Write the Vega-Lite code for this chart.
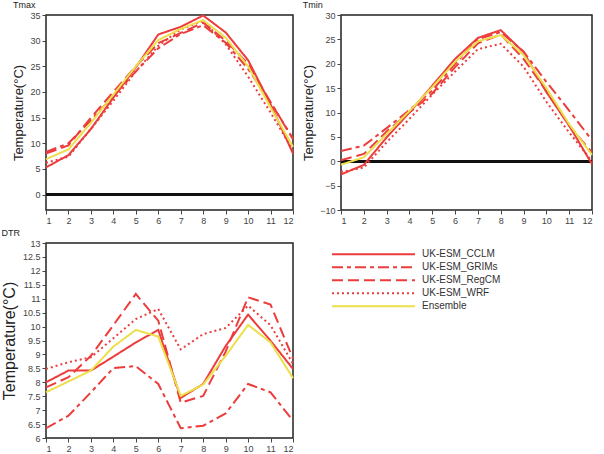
{
  "$schema": "https://vega.github.io/schema/vega-lite/v6.json",
  "padding": {"left": 0, "top": 0, "right": 5, "bottom": 3},
  "background": "white",
  "config": {
    "font": "Liberation Sans",
    "view": {"stroke": "#222", "strokeWidth": 1.5},
    "axis": {"grid": false, "domain": false, "labelFontSize": 9, "labelColor": "#444", "tickColor": "#444", "tickSize": 4, "labelPadding": 2, "labelOverlap": false, "titleFontWeight": "normal", "titleColor": "#222"},
    "title": {"fontSize": 9, "fontWeight": "normal", "anchor": "start", "offset": 1, "color": "#222"}
  },
  "datasets": {
    "temps": [
      {"v":"Tmax","model":"UK-ESM_CCLM","m":1,"t":5.3},{"v":"Tmax","model":"UK-ESM_CCLM","m":2,"t":7.7},{"v":"Tmax","model":"UK-ESM_CCLM","m":3,"t":12.8},{"v":"Tmax","model":"UK-ESM_CCLM","m":4,"t":18.9},{"v":"Tmax","model":"UK-ESM_CCLM","m":5,"t":24.8},{"v":"Tmax","model":"UK-ESM_CCLM","m":6,"t":31.2},{"v":"Tmax","model":"UK-ESM_CCLM","m":7,"t":32.7},{"v":"Tmax","model":"UK-ESM_CCLM","m":8,"t":34.9},{"v":"Tmax","model":"UK-ESM_CCLM","m":9,"t":31.6},{"v":"Tmax","model":"UK-ESM_CCLM","m":10,"t":26.2},{"v":"Tmax","model":"UK-ESM_CCLM","m":11,"t":17.6},{"v":"Tmax","model":"UK-ESM_CCLM","m":12,"t":8.0},
      {"v":"Tmax","model":"UK-ESM_GRIMs","m":1,"t":8.3},{"v":"Tmax","model":"UK-ESM_GRIMs","m":2,"t":10.0},{"v":"Tmax","model":"UK-ESM_GRIMs","m":3,"t":14.5},{"v":"Tmax","model":"UK-ESM_GRIMs","m":4,"t":19.2},{"v":"Tmax","model":"UK-ESM_GRIMs","m":5,"t":24.0},{"v":"Tmax","model":"UK-ESM_GRIMs","m":6,"t":28.5},{"v":"Tmax","model":"UK-ESM_GRIMs","m":7,"t":31.3},{"v":"Tmax","model":"UK-ESM_GRIMs","m":8,"t":33.0},{"v":"Tmax","model":"UK-ESM_GRIMs","m":9,"t":29.6},{"v":"Tmax","model":"UK-ESM_GRIMs","m":10,"t":24.5},{"v":"Tmax","model":"UK-ESM_GRIMs","m":11,"t":18.0},{"v":"Tmax","model":"UK-ESM_GRIMs","m":12,"t":10.9},
      {"v":"Tmax","model":"UK-ESM_RegCM","m":1,"t":8.0},{"v":"Tmax","model":"UK-ESM_RegCM","m":2,"t":9.6},{"v":"Tmax","model":"UK-ESM_RegCM","m":3,"t":15.0},{"v":"Tmax","model":"UK-ESM_RegCM","m":4,"t":20.0},{"v":"Tmax","model":"UK-ESM_RegCM","m":5,"t":25.0},{"v":"Tmax","model":"UK-ESM_RegCM","m":6,"t":29.5},{"v":"Tmax","model":"UK-ESM_RegCM","m":7,"t":31.5},{"v":"Tmax","model":"UK-ESM_RegCM","m":8,"t":33.5},{"v":"Tmax","model":"UK-ESM_RegCM","m":9,"t":30.0},{"v":"Tmax","model":"UK-ESM_RegCM","m":10,"t":25.5},{"v":"Tmax","model":"UK-ESM_RegCM","m":11,"t":18.0},{"v":"Tmax","model":"UK-ESM_RegCM","m":12,"t":10.8},
      {"v":"Tmax","model":"UK-ESM_WRF","m":1,"t":6.2},{"v":"Tmax","model":"UK-ESM_WRF","m":2,"t":7.4},{"v":"Tmax","model":"UK-ESM_WRF","m":3,"t":12.8},{"v":"Tmax","model":"UK-ESM_WRF","m":4,"t":18.3},{"v":"Tmax","model":"UK-ESM_WRF","m":5,"t":24.0},{"v":"Tmax","model":"UK-ESM_WRF","m":6,"t":29.0},{"v":"Tmax","model":"UK-ESM_WRF","m":7,"t":32.2},{"v":"Tmax","model":"UK-ESM_WRF","m":8,"t":33.9},{"v":"Tmax","model":"UK-ESM_WRF","m":9,"t":29.3},{"v":"Tmax","model":"UK-ESM_WRF","m":10,"t":23.0},{"v":"Tmax","model":"UK-ESM_WRF","m":11,"t":16.0},{"v":"Tmax","model":"UK-ESM_WRF","m":12,"t":8.6},
      {"v":"Tmax","model":"Ensemble","m":1,"t":6.9},{"v":"Tmax","model":"Ensemble","m":2,"t":8.8},{"v":"Tmax","model":"Ensemble","m":3,"t":14.0},{"v":"Tmax","model":"Ensemble","m":4,"t":19.5},{"v":"Tmax","model":"Ensemble","m":5,"t":25.0},{"v":"Tmax","model":"Ensemble","m":6,"t":30.1},{"v":"Tmax","model":"Ensemble","m":7,"t":32.3},{"v":"Tmax","model":"Ensemble","m":8,"t":34.0},{"v":"Tmax","model":"Ensemble","m":9,"t":30.6},{"v":"Tmax","model":"Ensemble","m":10,"t":25.0},{"v":"Tmax","model":"Ensemble","m":11,"t":17.0},{"v":"Tmax","model":"Ensemble","m":12,"t":9.3},
      {"v":"Tmin","model":"UK-ESM_CCLM","m":1,"t":-2.7},{"v":"Tmin","model":"UK-ESM_CCLM","m":2,"t":-0.75},{"v":"Tmin","model":"UK-ESM_CCLM","m":3,"t":4.9},{"v":"Tmin","model":"UK-ESM_CCLM","m":4,"t":10.0},{"v":"Tmin","model":"UK-ESM_CCLM","m":5,"t":15.5},{"v":"Tmin","model":"UK-ESM_CCLM","m":6,"t":21.0},{"v":"Tmin","model":"UK-ESM_CCLM","m":7,"t":25.3},{"v":"Tmin","model":"UK-ESM_CCLM","m":8,"t":26.9},{"v":"Tmin","model":"UK-ESM_CCLM","m":9,"t":22.4},{"v":"Tmin","model":"UK-ESM_CCLM","m":10,"t":14.2},{"v":"Tmin","model":"UK-ESM_CCLM","m":11,"t":7.3},{"v":"Tmin","model":"UK-ESM_CCLM","m":12,"t":-0.6},
      {"v":"Tmin","model":"UK-ESM_GRIMs","m":1,"t":2.1},{"v":"Tmin","model":"UK-ESM_GRIMs","m":2,"t":3.2},{"v":"Tmin","model":"UK-ESM_GRIMs","m":3,"t":6.8},{"v":"Tmin","model":"UK-ESM_GRIMs","m":4,"t":10.5},{"v":"Tmin","model":"UK-ESM_GRIMs","m":5,"t":14.5},{"v":"Tmin","model":"UK-ESM_GRIMs","m":6,"t":20.0},{"v":"Tmin","model":"UK-ESM_GRIMs","m":7,"t":25.0},{"v":"Tmin","model":"UK-ESM_GRIMs","m":8,"t":26.5},{"v":"Tmin","model":"UK-ESM_GRIMs","m":9,"t":22.5},{"v":"Tmin","model":"UK-ESM_GRIMs","m":10,"t":16.3},{"v":"Tmin","model":"UK-ESM_GRIMs","m":11,"t":10.4},{"v":"Tmin","model":"UK-ESM_GRIMs","m":12,"t":4.3},
      {"v":"Tmin","model":"UK-ESM_RegCM","m":1,"t":0.2},{"v":"Tmin","model":"UK-ESM_RegCM","m":2,"t":1.5},{"v":"Tmin","model":"UK-ESM_RegCM","m":3,"t":6.1},{"v":"Tmin","model":"UK-ESM_RegCM","m":4,"t":10.0},{"v":"Tmin","model":"UK-ESM_RegCM","m":5,"t":13.9},{"v":"Tmin","model":"UK-ESM_RegCM","m":6,"t":19.3},{"v":"Tmin","model":"UK-ESM_RegCM","m":7,"t":24.2},{"v":"Tmin","model":"UK-ESM_RegCM","m":8,"t":26.0},{"v":"Tmin","model":"UK-ESM_RegCM","m":9,"t":21.0},{"v":"Tmin","model":"UK-ESM_RegCM","m":10,"t":14.4},{"v":"Tmin","model":"UK-ESM_RegCM","m":11,"t":7.3},{"v":"Tmin","model":"UK-ESM_RegCM","m":12,"t":1.8},
      {"v":"Tmin","model":"UK-ESM_WRF","m":1,"t":-2.2},{"v":"Tmin","model":"UK-ESM_WRF","m":2,"t":-1.3},{"v":"Tmin","model":"UK-ESM_WRF","m":3,"t":3.9},{"v":"Tmin","model":"UK-ESM_WRF","m":4,"t":8.7},{"v":"Tmin","model":"UK-ESM_WRF","m":5,"t":13.7},{"v":"Tmin","model":"UK-ESM_WRF","m":6,"t":18.4},{"v":"Tmin","model":"UK-ESM_WRF","m":7,"t":23.0},{"v":"Tmin","model":"UK-ESM_WRF","m":8,"t":24.1},{"v":"Tmin","model":"UK-ESM_WRF","m":9,"t":19.4},{"v":"Tmin","model":"UK-ESM_WRF","m":10,"t":12.2},{"v":"Tmin","model":"UK-ESM_WRF","m":11,"t":5.9},{"v":"Tmin","model":"UK-ESM_WRF","m":12,"t":0.0},
      {"v":"Tmin","model":"Ensemble","m":1,"t":-0.7},{"v":"Tmin","model":"Ensemble","m":2,"t":0.8},{"v":"Tmin","model":"Ensemble","m":3,"t":5.6},{"v":"Tmin","model":"Ensemble","m":4,"t":10.3},{"v":"Tmin","model":"Ensemble","m":5,"t":15.2},{"v":"Tmin","model":"Ensemble","m":6,"t":20.4},{"v":"Tmin","model":"Ensemble","m":7,"t":24.6},{"v":"Tmin","model":"Ensemble","m":8,"t":25.9},{"v":"Tmin","model":"Ensemble","m":9,"t":21.8},{"v":"Tmin","model":"Ensemble","m":10,"t":15.0},{"v":"Tmin","model":"Ensemble","m":11,"t":7.6},{"v":"Tmin","model":"Ensemble","m":12,"t":1.3},
      {"v":"DTR","model":"UK-ESM_CCLM","m":1,"t":8.0},{"v":"DTR","model":"UK-ESM_CCLM","m":2,"t":8.42},{"v":"DTR","model":"UK-ESM_CCLM","m":3,"t":8.42},{"v":"DTR","model":"UK-ESM_CCLM","m":4,"t":8.92},{"v":"DTR","model":"UK-ESM_CCLM","m":5,"t":9.43},{"v":"DTR","model":"UK-ESM_CCLM","m":6,"t":9.88},{"v":"DTR","model":"UK-ESM_CCLM","m":7,"t":7.44},{"v":"DTR","model":"UK-ESM_CCLM","m":8,"t":7.94},{"v":"DTR","model":"UK-ESM_CCLM","m":9,"t":9.3},{"v":"DTR","model":"UK-ESM_CCLM","m":10,"t":10.43},{"v":"DTR","model":"UK-ESM_CCLM","m":11,"t":9.49},{"v":"DTR","model":"UK-ESM_CCLM","m":12,"t":8.48},
      {"v":"DTR","model":"UK-ESM_GRIMs","m":1,"t":6.35},{"v":"DTR","model":"UK-ESM_GRIMs","m":2,"t":6.8},{"v":"DTR","model":"UK-ESM_GRIMs","m":3,"t":7.64},{"v":"DTR","model":"UK-ESM_GRIMs","m":4,"t":8.51},{"v":"DTR","model":"UK-ESM_GRIMs","m":5,"t":8.58},{"v":"DTR","model":"UK-ESM_GRIMs","m":6,"t":7.94},{"v":"DTR","model":"UK-ESM_GRIMs","m":7,"t":6.35},{"v":"DTR","model":"UK-ESM_GRIMs","m":8,"t":6.44},{"v":"DTR","model":"UK-ESM_GRIMs","m":9,"t":6.88},{"v":"DTR","model":"UK-ESM_GRIMs","m":10,"t":7.94},{"v":"DTR","model":"UK-ESM_GRIMs","m":11,"t":7.64},{"v":"DTR","model":"UK-ESM_GRIMs","m":12,"t":6.62},
      {"v":"DTR","model":"UK-ESM_RegCM","m":1,"t":7.82},{"v":"DTR","model":"UK-ESM_RegCM","m":2,"t":8.18},{"v":"DTR","model":"UK-ESM_RegCM","m":3,"t":8.95},{"v":"DTR","model":"UK-ESM_RegCM","m":4,"t":10.05},{"v":"DTR","model":"UK-ESM_RegCM","m":5,"t":11.17},{"v":"DTR","model":"UK-ESM_RegCM","m":6,"t":10.21},{"v":"DTR","model":"UK-ESM_RegCM","m":7,"t":7.27},{"v":"DTR","model":"UK-ESM_RegCM","m":8,"t":7.51},{"v":"DTR","model":"UK-ESM_RegCM","m":9,"t":9.1},{"v":"DTR","model":"UK-ESM_RegCM","m":10,"t":11.05},{"v":"DTR","model":"UK-ESM_RegCM","m":11,"t":10.79},{"v":"DTR","model":"UK-ESM_RegCM","m":12,"t":8.85},
      {"v":"DTR","model":"UK-ESM_WRF","m":1,"t":8.48},{"v":"DTR","model":"UK-ESM_WRF","m":2,"t":8.72},{"v":"DTR","model":"UK-ESM_WRF","m":3,"t":8.9},{"v":"DTR","model":"UK-ESM_WRF","m":4,"t":9.58},{"v":"DTR","model":"UK-ESM_WRF","m":5,"t":10.27},{"v":"DTR","model":"UK-ESM_WRF","m":6,"t":10.63},{"v":"DTR","model":"UK-ESM_WRF","m":7,"t":9.18},{"v":"DTR","model":"UK-ESM_WRF","m":8,"t":9.73},{"v":"DTR","model":"UK-ESM_WRF","m":9,"t":9.95},{"v":"DTR","model":"UK-ESM_WRF","m":10,"t":10.75},{"v":"DTR","model":"UK-ESM_WRF","m":11,"t":10.05},{"v":"DTR","model":"UK-ESM_WRF","m":12,"t":8.66},
      {"v":"DTR","model":"Ensemble","m":1,"t":7.64},{"v":"DTR","model":"Ensemble","m":2,"t":8.03},{"v":"DTR","model":"Ensemble","m":3,"t":8.42},{"v":"DTR","model":"Ensemble","m":4,"t":9.28},{"v":"DTR","model":"Ensemble","m":5,"t":9.88},{"v":"DTR","model":"Ensemble","m":6,"t":9.64},{"v":"DTR","model":"Ensemble","m":7,"t":7.51},{"v":"DTR","model":"Ensemble","m":8,"t":7.92},{"v":"DTR","model":"Ensemble","m":9,"t":8.95},{"v":"DTR","model":"Ensemble","m":10,"t":10.06},{"v":"DTR","model":"Ensemble","m":11,"t":9.43},{"v":"DTR","model":"Ensemble","m":12,"t":8.15}
    ]
  },
  "bounds": "flush",
  "columns": 2,
  "spacing": {"row": 33, "column": 48},
  "concat": [
    {
      "title": "Tmax",
      "width": 247, "height": 195,
      "data": {"name": "temps"},
      "transform": [{"filter": "datum.v === 'Tmax'"}],
      "layer": [
        {"mark": {"type": "rule", "color": "#111", "strokeWidth": 2}, "encoding": {"y": {"datum": 0, "type": "quantitative", "scale": {"domain": [-3, 35], "nice": false, "zero": false}, "axis": {"values": [0,5,10,15,20,25,30,35], "title": "Temperature(°C)", "titleFontSize": 13, "titlePadding": 4}}}},
        {
          "mark": {"type": "line", "strokeWidth": 2},
          "encoding": {
            "x": {"field": "m", "type": "quantitative", "scale": {"domain": [1, 12], "nice": false}, "axis": {"values": [1,2,3,4,5,6,7,8,9,10,11,12], "title": null}},
            "y": {"field": "t", "type": "quantitative", "scale": {"domain": [-3, 35], "nice": false, "zero": false}, "axis": {"values": [0,5,10,15,20,25,30,35], "title": "Temperature(°C)", "titleFontSize": 13, "titlePadding": 4}},
            "color": {"field": "model", "type": "nominal", "scale": {"domain": ["UK-ESM_CCLM","UK-ESM_GRIMs","UK-ESM_RegCM","UK-ESM_WRF","Ensemble"], "range": ["#ec3c3c","#ec3c3c","#ec3c3c","#ec3c3c","#ebe04a"]},
              "legend": {"title": null, "orient": "none", "legendX": 285, "legendY": 233, "symbolType": "stroke", "symbolSize": 6889, "symbolStrokeWidth": 2, "clipHeight": 12.3, "labelFontSize": 10, "labelColor": "#333", "labelOffset": 6, "rowPadding": 0}},
            "strokeDash": {"field": "model", "type": "nominal", "scale": {"domain": ["UK-ESM_CCLM","UK-ESM_GRIMs","UK-ESM_RegCM","UK-ESM_WRF","Ensemble"], "range": [[1,0],[11,4,4,4],[11,5],[2,3],[1,0]]}, "legend": null},
            "order": {"field": "m"}
          }
        }
      ]
    },
    {
      "title": "Tmin",
      "width": 251, "height": 195,
      "data": {"name": "temps"},
      "transform": [{"filter": "datum.v === 'Tmin'"}],
      "layer": [
        {"mark": {"type": "rule", "color": "#111", "strokeWidth": 2}, "encoding": {"y": {"datum": 0, "type": "quantitative", "scale": {"domain": [-10, 30], "nice": false, "zero": false}, "axis": {"values": [-10,-5,0,5,10,15,20,25,30], "title": "Temperature(°C)", "titleFontSize": 13, "titlePadding": 4}}}},
        {
          "mark": {"type": "line", "strokeWidth": 2},
          "encoding": {
            "x": {"field": "m", "type": "quantitative", "scale": {"domain": [1, 12], "nice": false}, "axis": {"values": [1,2,3,4,5,6,7,8,9,10,11,12], "title": null}},
            "y": {"field": "t", "type": "quantitative", "scale": {"domain": [-10, 30], "nice": false, "zero": false}, "axis": {"values": [-10,-5,0,5,10,15,20,25,30], "title": "Temperature(°C)", "titleFontSize": 13, "titlePadding": 4}},
            "color": {"field": "model", "type": "nominal"},
            "strokeDash": {"field": "model", "type": "nominal", "legend": null},
            "order": {"field": "m"}
          }
        }
      ]
    },
    {
      "title": "DTR",
      "width": 247, "height": 195,
      "data": {"name": "temps"},
      "transform": [{"filter": "datum.v === 'DTR'"}],
      "mark": {"type": "line", "strokeWidth": 2},
      "encoding": {
        "x": {"field": "m", "type": "quantitative", "scale": {"domain": [1, 12], "nice": false}, "axis": {"values": [1,2,3,4,5,6,7,8,9,10,11,12], "title": null}},
        "y": {"field": "t", "type": "quantitative", "scale": {"domain": [6, 13], "nice": false, "zero": false}, "axis": {"values": [6,6.5,7,7.5,8,8.5,9,9.5,10,10.5,11,11.5,12,12.5,13], "format": "~g", "title": "Temperature(°C)", "titleFontSize": 16, "titlePadding": 5}},
        "color": {"field": "model", "type": "nominal"},
        "strokeDash": {"field": "model", "type": "nominal", "legend": null},
        "order": {"field": "m"}
      }
    }
  ]
}
